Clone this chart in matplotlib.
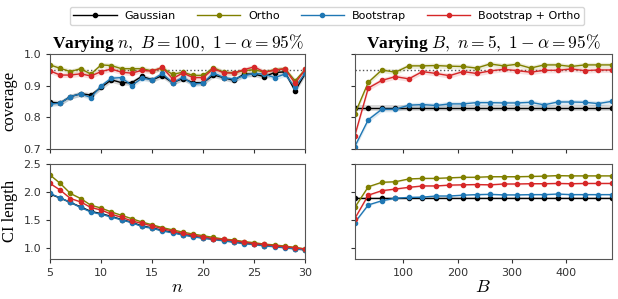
import numpy as np
import matplotlib
matplotlib.use("Agg")
import matplotlib.pyplot as plt

plt.rcParams['mathtext.fontset'] = 'cm'

# x values
n_vals = np.arange(5, 31)
B_vals = np.arange(10, 486, 25)

methods = ["Gaussian", "Ortho", "Bootstrap", "Bootstrap + Ortho"]
colors = {"Gaussian": "black", "Ortho": "#808000",
          "Bootstrap": "#1f77b4", "Bootstrap + Ortho": "#d62728"}

# coverage vs n (B = 100)
cov_n_gauss = [0.847, 0.845, 0.865, 0.874, 0.870, 0.894, 0.918, 0.909, 0.909, 0.929,
               0.918, 0.931, 0.909, 0.922, 0.909, 0.909, 0.933, 0.925, 0.916, 0.936,
               0.936, 0.928, 0.941, 0.943, 0.883, 0.938]
cov_n_ortho = [0.965, 0.954, 0.944, 0.953, 0.936, 0.965, 0.963, 0.953, 0.953, 0.953,
               0.946, 0.956, 0.935, 0.942, 0.932, 0.932, 0.956, 0.942, 0.940, 0.947,
               0.950, 0.942, 0.950, 0.953, 0.915, 0.951]
cov_n_boot = [0.841, 0.845, 0.865, 0.874, 0.862, 0.899, 0.923, 0.925, 0.900, 0.923,
              0.918, 0.938, 0.908, 0.926, 0.904, 0.908, 0.940, 0.925, 0.920, 0.931,
              0.938, 0.936, 0.925, 0.936, 0.894, 0.940]
cov_n_bortho = [0.946, 0.933, 0.933, 0.937, 0.930, 0.944, 0.952, 0.942, 0.939, 0.948,
                0.945, 0.957, 0.921, 0.940, 0.925, 0.925, 0.953, 0.940, 0.939, 0.950,
                0.959, 0.942, 0.948, 0.953, 0.907, 0.951]

# CI length vs n
len_n_gauss = [1.96, 1.89, 1.81, 1.73, 1.65, 1.61, 1.56, 1.505, 1.455, 1.39,
               1.355, 1.31, 1.275, 1.235, 1.205, 1.175, 1.155, 1.13, 1.105, 1.08,
               1.065, 1.04, 1.025, 1.005, 0.985, 0.965]
len_n_ortho = [2.30, 2.15, 1.97, 1.88, 1.76, 1.71, 1.64, 1.58, 1.52, 1.46,
               1.41, 1.36, 1.32, 1.28, 1.245, 1.215, 1.185, 1.155, 1.14, 1.11,
               1.09, 1.065, 1.05, 1.03, 1.005, 0.98]
len_n_boot = [1.97, 1.89, 1.81, 1.72, 1.64, 1.60, 1.55, 1.50, 1.45, 1.38,
              1.35, 1.30, 1.27, 1.23, 1.20, 1.17, 1.15, 1.125, 1.10, 1.075,
              1.06, 1.035, 1.02, 1.00, 0.98, 0.96]
len_n_bortho = [2.15, 2.03, 1.88, 1.82, 1.72, 1.675, 1.60, 1.545, 1.48, 1.435,
                1.39, 1.34, 1.30, 1.255, 1.225, 1.195, 1.165, 1.15, 1.125, 1.10,
                1.075, 1.06, 1.035, 1.02, 1.00, 0.975]

# coverage vs B (n = 5)
cov_B_gauss = [0.829] * 20
cov_B_ortho = [0.810, 0.910, 0.949, 0.942, 0.962, 0.962, 0.963, 0.961, 0.960, 0.955,
               0.968, 0.962, 0.967, 0.955, 0.965, 0.965, 0.960, 0.965, 0.965, 0.965]
cov_B_boot = [0.707, 0.792, 0.825, 0.825, 0.838, 0.840, 0.837, 0.842, 0.842, 0.846,
              0.846, 0.845, 0.845, 0.847, 0.839, 0.848, 0.848, 0.847, 0.843, 0.850]
cov_B_bortho = [0.741, 0.892, 0.916, 0.928, 0.921, 0.944, 0.938, 0.931, 0.944, 0.938,
                0.946, 0.951, 0.947, 0.942, 0.948, 0.948, 0.952, 0.947, 0.949, 0.949]

# CI length vs B
len_B_gauss = [1.895] * 20
len_B_ortho = [1.72, 2.09, 2.17, 2.18, 2.23, 2.24, 2.24, 2.25, 2.26, 2.26,
               2.27, 2.27, 2.27, 2.275, 2.28, 2.29, 2.285, 2.285, 2.285, 2.285]
len_B_boot = [1.45, 1.765, 1.84, 1.885, 1.90, 1.905, 1.925, 1.925, 1.94, 1.95,
              1.955, 1.945, 1.945, 1.95, 1.95, 1.96, 1.95, 1.95, 1.95, 1.95]
len_B_bortho = [1.52, 1.94, 2.02, 2.05, 2.08, 2.105, 2.105, 2.12, 2.125, 2.13,
                2.125, 2.14, 2.14, 2.145, 2.145, 2.15, 2.145, 2.15, 2.15, 2.15]

# half-width of shaded bands
cov_band = 0.008
len_band = 0.015

panels = {
    (0, 0): (n_vals, [cov_n_gauss, cov_n_ortho, cov_n_boot, cov_n_bortho], cov_band),
    (1, 0): (n_vals, [len_n_gauss, len_n_ortho, len_n_boot, len_n_bortho], len_band),
    (0, 1): (B_vals, [cov_B_gauss, cov_B_ortho, cov_B_boot, cov_B_bortho], cov_band),
    (1, 1): (B_vals, [len_B_gauss, len_B_ortho, len_B_boot, len_B_bortho], len_band),
}

fig = plt.figure(figsize=(6.18, 2.99), dpi=100)
axes = {
    (0, 0): fig.add_axes([0.081, 0.502, 0.413, 0.318]),
    (1, 0): fig.add_axes([0.081, 0.134, 0.413, 0.318]),
    (0, 1): fig.add_axes([0.574, 0.502, 0.416, 0.318]),
    (1, 1): fig.add_axes([0.574, 0.134, 0.416, 0.318]),
}

serif = 'Liberation Serif'
for key, (x, series, band) in panels.items():
    ax = axes[key]
    order = [0, 2, 1, 3]
    for i in order:
        m = methods[i]
        y = np.array(series[i])
        ax.fill_between(x, y - band, y + band, color=colors[m], alpha=0.15, lw=0)
        ax.plot(x, y, '-o', color=colors[m], ms=3, lw=1, label=m)
    for s in ax.spines.values():
        s.set_edgecolor('#555555')
    ax.tick_params(labelsize=8, length=3, colors='#333333')

for key in [(0, 0), (0, 1)]:
    axes[key].axhline(0.95, color='#555555', ls=':', lw=1, zorder=0)
    axes[key].set_ylim(0.7, 1.0)
    axes[key].set_yticks([0.7, 0.8, 0.9, 1.0])
for key in [(1, 0), (1, 1)]:
    axes[key].set_ylim(0.8, 2.5)
    axes[key].set_yticks([1.0, 1.5, 2.0, 2.5])
for key in [(0, 0), (1, 0)]:
    axes[key].set_xlim(5, 30)
    axes[key].set_xticks([5, 10, 15, 20, 25, 30])
for key in [(0, 1), (1, 1)]:
    axes[key].set_xlim(10, 485)
    axes[key].set_xticks([100, 200, 300, 400])
    axes[key].set_yticklabels([])
axes[(0, 0)].set_xticklabels([])
axes[(0, 1)].set_xticklabels([])

axes[(0, 0)].set_ylabel('coverage', fontsize=12, family=serif)
axes[(1, 0)].set_ylabel('CI length', fontsize=12, family=serif)
axes[(1, 0)].set_xlabel('$n$', fontsize=13, labelpad=0)
axes[(1, 1)].set_xlabel('$B$', fontsize=13, labelpad=0)
axes[(0, 0)].set_title(r'Varying $n,\ B=100,\ 1-\alpha=95\%$', fontsize=12.5,
                       family=serif, weight='bold', pad=3)
axes[(0, 1)].set_title(r'Varying $B,\ n=5,\ 1-\alpha=95\%$', fontsize=12.5,
                       family=serif, weight='bold', pad=3)

handles, labels = axes[(0, 0)].get_legend_handles_labels()
lookup = dict(zip(labels, handles))
fig.legend([lookup[m] for m in methods], methods, loc='upper center',
           bbox_to_anchor=(0.529, 0.995), ncol=4, fontsize=8, frameon=True,
           handlelength=3.9, columnspacing=1.9, handletextpad=0.7, borderpad=0.35)

fig.savefig('out.png', dpi=100)
